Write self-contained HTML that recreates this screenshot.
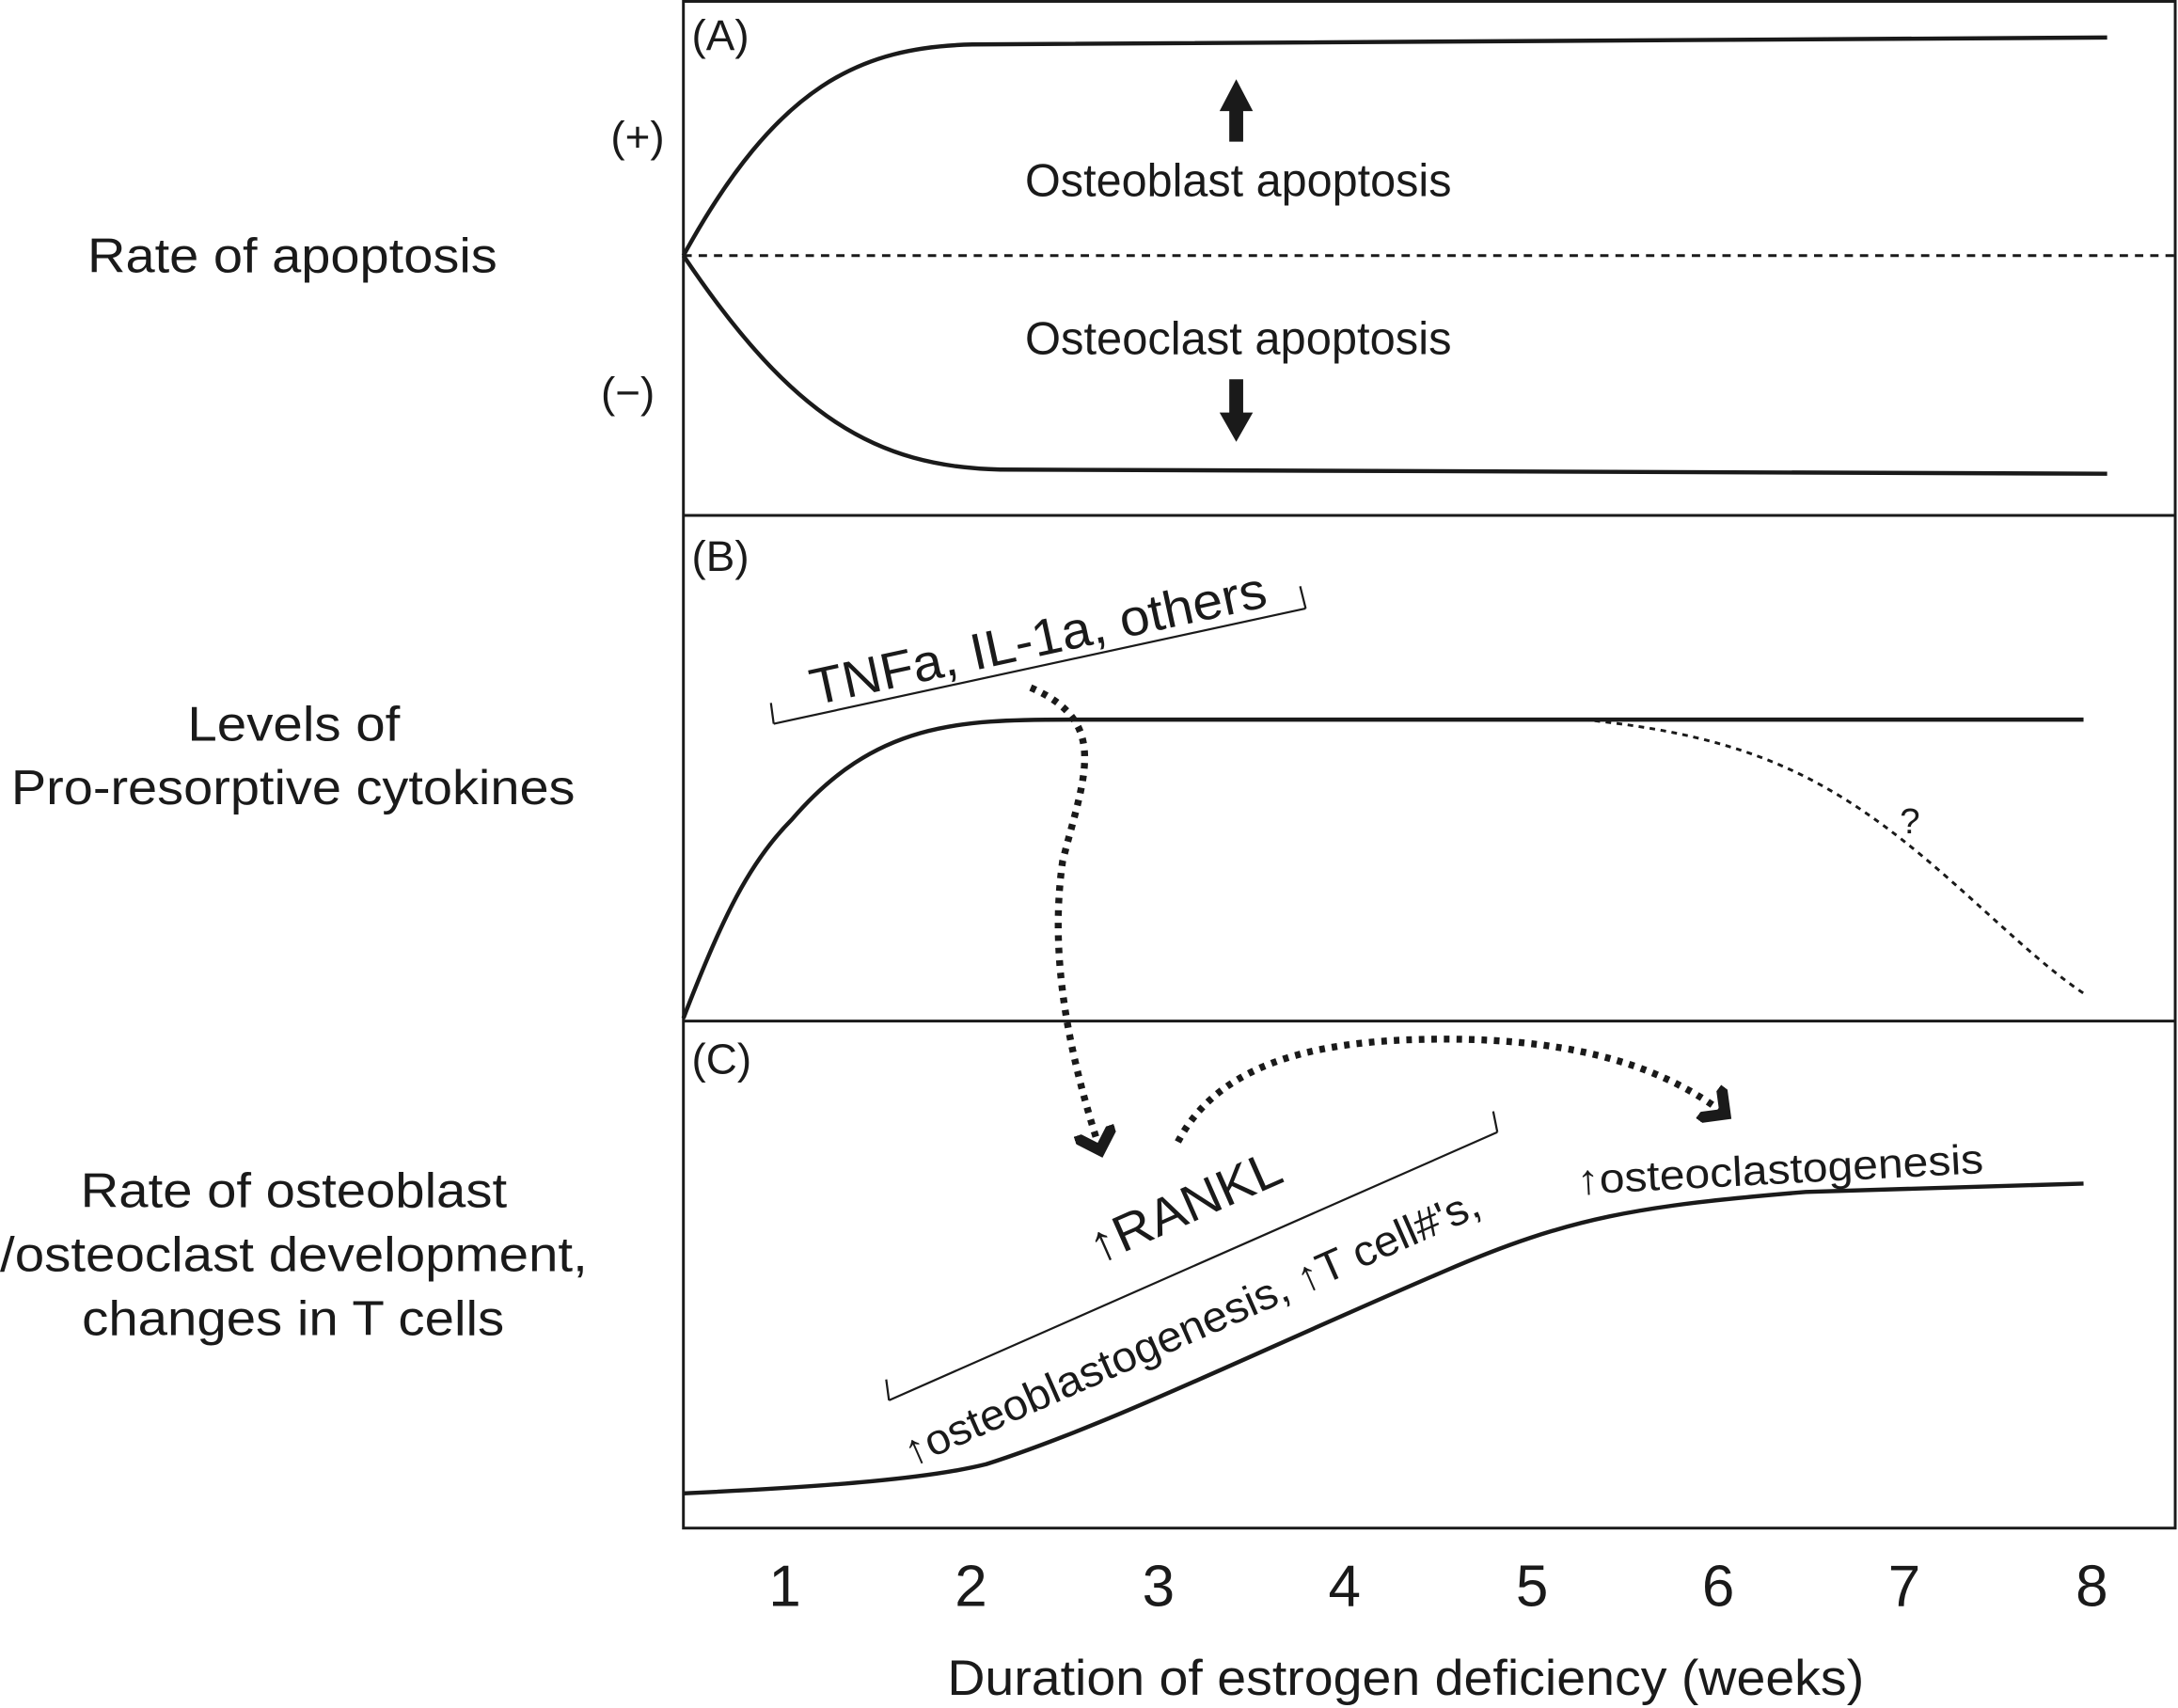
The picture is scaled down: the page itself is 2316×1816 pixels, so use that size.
<!DOCTYPE html>
<html><head><meta charset="utf-8"><style>html,body{margin:0;padding:0;background:#fff}svg{display:block}</style></head>
<body>
<svg xmlns="http://www.w3.org/2000/svg" width="2316" height="1816" viewBox="0 0 1568 1229.5" font-family="'Liberation Sans', sans-serif" fill="#1a1a1a">
<defs>
<marker id="ah" markerWidth="6" markerHeight="6" refX="3" refY="3" orient="auto" markerUnits="strokeWidth"><path d="M0,0 L3,3 L0,6" fill="none" stroke="#1a1a1a" stroke-width="1.6"/></marker>
</defs>
<g fill="none" stroke="#1a1a1a">
<rect x="492" y="1" width="1074" height="1099" stroke-width="2"/>
<line x1="492" y1="371" x2="1566" y2="371" stroke-width="2"/>
<line x1="492" y1="735" x2="1566" y2="735" stroke-width="2"/>
<path d="M492,184 C560,60 620,34 700,32 L1517,27" stroke-width="3"/>
<path d="M492,184 C570,300 630,336 720,338 L1517,341" stroke-width="3"/>
<line x1="492" y1="184" x2="1566" y2="184" stroke-width="2" stroke-dasharray="6,5"/>
<path d="M492,733 C520,660 540,620 570,590 C630,520 690,518 770,518 L1500,518" stroke-width="3"/>
<path d="M1140,518 C1260,530 1320,560 1400,630 C1440,665 1470,695 1500,715" stroke-width="2" stroke-dasharray="4,4"/>
<path d="M557,521 L555,506 M557,521 L940,438 M940,438 L936,422" stroke-width="1.5"/>
<path d="M742,495 C800,520 780,560 765,620 C755,690 770,760 792,828" stroke-width="5" stroke-dasharray="4,5" marker-end="url(#ah)"/>
<path d="M492,1075 C600,1070 670,1064 710,1054 C800,1025 900,975 1040,915 C1130,876 1180,868 1300,858 L1500,852" stroke-width="3"/>
<path d="M640,1008 L638,993 M640,1008 L1078,815 M1078,815 L1075,800" stroke-width="1.5"/>
<path d="M848,822 C880,760 960,748 1040,748 C1140,748 1200,770 1242,802" stroke-width="5" stroke-dasharray="4,5" marker-end="url(#ah)"/>
</g>
<path d="M885,102 L885,80 L878,80 L890,57 L902,80 L895,80 L895,102 Z"/>
<path d="M885,273 L885,297 L878,297 L890,318 L902,297 L895,297 L895,273 Z"/>
<g font-size="31">
<text x="498" y="36">(A)</text>
<text x="498" y="411">(B)</text>
<text x="498" y="773">(C)</text>
<text x="459" y="109" text-anchor="middle">(+)</text>
<text x="452" y="293" text-anchor="middle">(−)</text>
<text x="738" y="141" font-size="33" textLength="307" lengthAdjust="spacingAndGlyphs">Osteoblast apoptosis</text>
<text x="738" y="255" font-size="33" textLength="307" lengthAdjust="spacingAndGlyphs">Osteoclast apoptosis</text>
<text x="1375" y="600" text-anchor="middle" font-size="26">?</text>
</g>
<g font-size="35">
<text x="63" y="196" textLength="295" lengthAdjust="spacingAndGlyphs">Rate of apoptosis</text>
<text x="135" y="533" textLength="153" lengthAdjust="spacingAndGlyphs">Levels of</text>
<text x="8" y="579" textLength="406" lengthAdjust="spacingAndGlyphs">Pro-resorptive cytokines</text>
<text x="58" y="869" textLength="307" lengthAdjust="spacingAndGlyphs">Rate of osteoblast</text>
<text x="0" y="915" textLength="423" lengthAdjust="spacingAndGlyphs">/osteoclast development,</text>
<text x="59" y="961" textLength="304" lengthAdjust="spacingAndGlyphs">changes in T cells</text>
</g>
<text x="750" y="472" font-size="37" text-anchor="middle" textLength="335" lengthAdjust="spacingAndGlyphs" transform="rotate(-12.3 750 472)">TNFa, IL-1a, others</text>
<text x="858" y="880" font-size="37" text-anchor="middle" textLength="148" lengthAdjust="spacingAndGlyphs" transform="rotate(-23.8 858 880)">↑RANKL</text>
<text x="862" y="965" font-size="31" text-anchor="middle" textLength="450" lengthAdjust="spacingAndGlyphs" transform="rotate(-23.8 862 965)">↑osteoblastogenesis,  ↑T cell#'s,</text>
<text x="1282" y="852" font-size="30" text-anchor="middle" textLength="293" lengthAdjust="spacingAndGlyphs" transform="rotate(-3 1282 852)">↑osteoclastogenesis</text>
<g font-size="42" text-anchor="middle">
<text x="565" y="1156">1</text><text x="699" y="1156">2</text><text x="834" y="1156">3</text><text x="968" y="1156">4</text>
<text x="1103" y="1156">5</text><text x="1237" y="1156">6</text><text x="1371" y="1156">7</text><text x="1506" y="1156">8</text>
</g>
<text x="682" y="1220" font-size="36" textLength="660" lengthAdjust="spacingAndGlyphs">Duration of estrogen deficiency (weeks)</text>
</svg>
</body></html>
